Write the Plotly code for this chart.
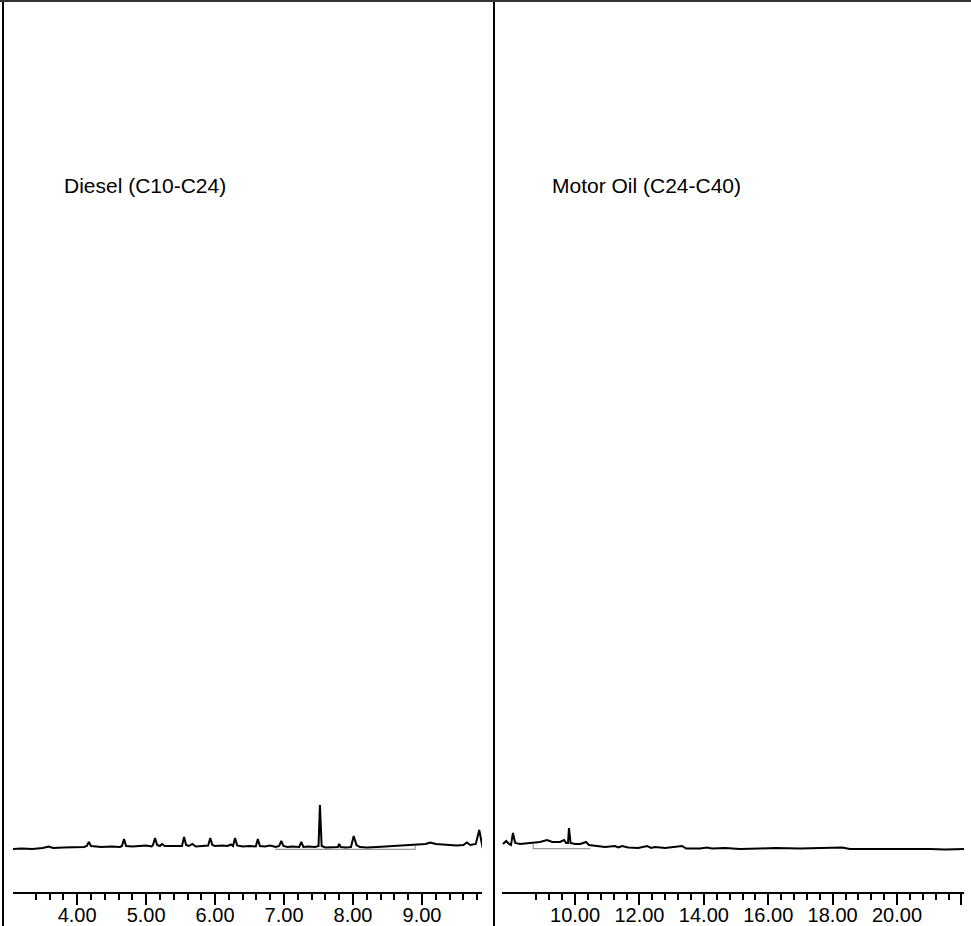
import plotly.graph_objects as go

# ---------------- data ----------------
diesel_time = [3.07, 3.20, 3.35, 3.50, 3.59, 3.65, 3.80, 3.95, 4.10, 4.14, 4.17, 4.20, 4.25, 4.35,
               4.50, 4.62, 4.65, 4.68, 4.71, 4.80, 4.90, 5.00, 5.08, 5.10, 5.13, 5.16, 5.20, 5.23,
               5.27, 5.35, 5.45, 5.52, 5.55, 5.58, 5.62, 5.67, 5.72, 5.80, 5.90, 5.93, 5.96, 6.00,
               6.10, 6.18, 6.23, 6.26, 6.29, 6.32, 6.40, 6.50, 6.59, 6.62, 6.65, 6.72, 6.80, 6.88,
               6.93, 6.96, 6.99, 7.05, 7.12, 7.22, 7.25, 7.28, 7.35, 7.45, 7.50, 7.52, 7.545, 7.60,
               7.70, 7.78, 7.80, 7.82, 7.90, 7.97, 8.01, 8.05, 8.10, 8.20, 8.35, 8.50, 8.65, 8.80,
               8.95, 9.05, 9.12, 9.20, 9.30, 9.40, 9.50, 9.60, 9.65, 9.70, 9.78, 9.83, 9.86, 9.88]
diesel_abund = [0, 0.5, 0, 1, 2.5, 1, 1.5, 2, 2, 3, 7, 3, 2.5, 2,
                2.5, 2, 3, 10, 3, 2.5, 3, 3.5, 2.5, 4, 11, 4, 3, 5,
                3, 3, 3.5, 3, 12, 4, 3, 5, 2.5, 3, 3.5, 11, 4, 3,
                3.5, 3, 4.5, 3, 11, 3.5, 2.5, 3, 2.5, 10, 3, 2.5, 3.5, 2,
                3, 8, 3, 2, 2.5, 2, 7, 2, 2.5, 2, 3, 44, 3, 1.5,
                1.5, 2, 5, 2, 1.5, 2, 13, 4, 2, 1.5, 2, 2.5, 3, 3.5,
                4, 5, 6.5, 5, 4.5, 4, 3.5, 4, 6.5, 4, 5, 19, 7, 1]
diesel_base_time = [6.87, 8.90, 8.90]
diesel_base_abund = [-0.3, -0.3, 3]

oil_time = [7.76, 7.86, 7.95, 8.01, 8.07, 8.14, 8.29, 8.60, 8.91, 9.13, 9.29, 9.53, 9.66, 9.72,
            9.78, 9.81, 9.86, 10.00, 10.16, 10.34, 10.43, 10.68, 10.93, 11.24, 11.34, 11.46,
            11.65, 11.96, 12.24, 12.36, 12.48, 12.80, 13.32, 13.45, 13.88, 14.10, 14.25, 14.66,
            15.12, 15.75, 16.21, 16.99, 18.07, 18.29, 18.54, 19.47, 20.25, 21.02, 21.49, 22.11]
oil_abund = [5, 8, 5, 4, 16, 6, 5, 6, 7, 9, 7, 7, 9, 6,
             6, 21, 6, 5, 5, 7, 4, 3, 2, 3, 1.5, 3,
             1.5, 1, 3, 1, 2, 1, 3, 0.5, 0.5, 1.5, 0.5, 1,
             0, 0.5, 1, 0.5, 1, 1.5, 0, 0, 0.5, 0, -0.5, 0]
oil_base_time = [8.70, 8.70, 10.47]
oil_base_abund = [5, 0.3, 0.3]

diesel_major = [4, 5, 6, 7, 8, 9]
diesel_major_text = ["4.00", "5.00", "6.00", "7.00", "8.00", "9.00"]
oil_major = [10, 12, 14, 16, 18, 20, 22]
oil_major_text = ["10.00", "12.00", "14.00", "16.00", "18.00", "20.00", ""]
diesel_minor = [round(3.4 + 0.2 * i, 2) for i in range(33)]
oil_minor = [round(8.8 + 0.4 * i, 2) for i in range(33)]

labels = ["Diesel (C10-C24)", "Motor Oil (C24-C40)"]

# ---------------- figure ----------------
W, H = 971, 926
MB = 34
PH = H - MB

def px_x(p):
    return p / W

def px_y(p):
    return (PH - p) / PH

fig = go.Figure()
line = dict(color="black", width=2)
fig.add_trace(go.Scatter(x=diesel_base_time, y=diesel_base_abund, mode="lines",
                         line=dict(color="#9a9a9a", width=1.2), xaxis="x", yaxis="y", hoverinfo="skip"))
fig.add_trace(go.Scatter(x=diesel_time, y=diesel_abund, mode="lines", line=line, xaxis="x", yaxis="y"))
fig.add_trace(go.Scatter(x=oil_base_time, y=oil_base_abund, mode="lines",
                         line=dict(color="#9a9a9a", width=1.2), xaxis="x2", yaxis="y2", hoverinfo="skip"))
fig.add_trace(go.Scatter(x=oil_time, y=oil_abund, mode="lines", line=line, xaxis="x2", yaxis="y2"))

tickfont = dict(family="Liberation Sans, Arial, sans-serif", size=20, color="black")

def xax(domain, rng, vals, text, minor_vals):
    return dict(domain=domain, range=rng, tickmode="array", tickvals=vals, ticktext=text,
                ticks="outside", ticklen=11, tickwidth=2, tickcolor="black",
                showline=True, linecolor="black", linewidth=2, showgrid=False, zeroline=False,
                tickfont=tickfont, ticklabelstandoff=-7, automargin=False,
                minor=dict(tickmode="array", tickvals=minor_vals, ticks="outside",
                           ticklen=6, tickwidth=1.6, tickcolor="black", showgrid=False))

yax = dict(range=[-43, PH - 43], showticklabels=False, showgrid=False, zeroline=False,
           showline=False, ticks="", automargin=False)

fig.update_layout(
    template="none",
    width=W, height=H,
    margin=dict(l=0, r=0, t=0, b=MB, pad=0),
    paper_bgcolor="white", plot_bgcolor="white",
    showlegend=False,
    xaxis=xax([px_x(13), px_x(482)], [3.07, 9.87], diesel_major, diesel_major_text, diesel_minor),
    xaxis2=xax([px_x(502), px_x(964)], [7.73, 22.08], oil_major, oil_major_text, oil_minor),
    yaxis=dict(yax, domain=[0, 1]),
    yaxis2=dict(yax, domain=[0, 1], anchor="x2"),
    font=dict(family="Liberation Sans, Arial, sans-serif", color="black"),
)
fig.layout.xaxis2.anchor = "y2"

# frame lines
fig.add_shape(type="line", xref="paper", yref="paper", x0=px_x(3), x1=px_x(3),
              y0=px_y(H), y1=1, line=dict(color="black", width=2))
fig.add_shape(type="line", xref="paper", yref="paper", x0=px_x(494), x1=px_x(494),
              y0=px_y(H), y1=1, line=dict(color="black", width=2))
fig.add_shape(type="line", xref="paper", yref="paper", x0=0, x1=1,
              y0=px_y(1), y1=px_y(1), line=dict(color="#333333", width=2))

fig.add_annotation(text=labels[0], xref="paper", yref="paper", x=px_x(62), y=px_y(185),
                   xanchor="left", yanchor="middle", showarrow=False,
                   font=dict(family="Liberation Sans, Arial, sans-serif", size=21, color="black"))
fig.add_annotation(text=labels[1], xref="paper", yref="paper", x=px_x(550), y=px_y(185),
                   xanchor="left", yanchor="middle", showarrow=False,
                   font=dict(family="Liberation Sans, Arial, sans-serif", size=21, color="black"))

fig.write_html("out.html", config={"displayModeBar": False},
               post_script="document.body.style.margin='0';document.body.style.overflow='hidden';")
